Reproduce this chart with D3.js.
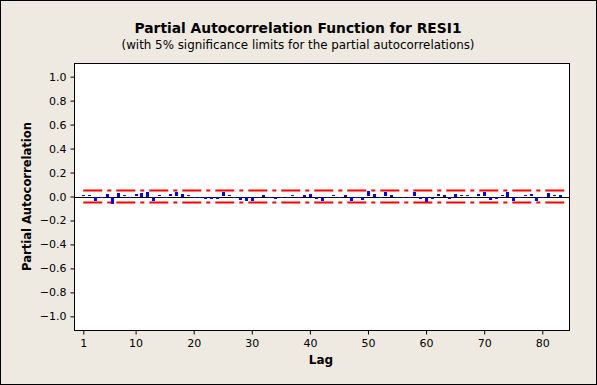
<!DOCTYPE html>
<html>
<head>
<meta charset="utf-8">
<script src="https://cdn.jsdelivr.net/npm/d3@7"></script>
<style>
  html, body { margin: 0; padding: 0; background: #EEEAE1; }
  svg { display: block; }
</style>
</head>
<body>
<div id="chart"></div>
<script>
// Partial autocorrelations, lags 1..83
const lags = d3.range(1, 84);
const pacf = [
  0.01, 0.01, -0.03, -0.01, 0.025, -0.055, 0.03, 0.01, -0.01, 0.02,
  0.03, 0.04, -0.03, 0.01, 0.0, 0.02, 0.035, 0.025, 0.01, -0.01,
  0.0, -0.015, -0.02, -0.015, 0.035, 0.01, -0.01, -0.025, -0.03, -0.035,
  -0.01, 0.015, 0.0, -0.02, -0.01, 0.0, 0.01, -0.01, 0.015, 0.025,
  -0.02, -0.035, 0.0, 0.01, -0.01, 0.015, -0.03, 0.0, -0.025, 0.045,
  0.025, 0.0, 0.035, 0.015, 0.0, 0.0, -0.01, 0.035, -0.02, -0.04,
  -0.02, 0.02, 0.015, -0.02, 0.025, 0.01, 0.01, 0.0, 0.02, 0.035,
  -0.025, -0.02, 0.01, 0.04, -0.035, -0.01, 0.01, 0.02, -0.03, 0.0,
  0.03, 0.01, 0.015
];
const sigLimit = 0.05;
const xTicks = [1, 10, 20, 30, 40, 50, 60, 70, 80];
const yTicks = [1.0, 0.8, 0.6, 0.4, 0.2, 0.0, -0.2, -0.4, -0.6, -0.8, -1.0];

const title = "Partial Autocorrelation Function for RESI1";
const subtitle = "(with 5% significance limits for the partial autocorrelations)";
const xTitle = "Lag";
const yTitle = "Partial Autocorrelation";

const width = 597, height = 385;
const plot = { left: 74, right: 569, top: 63, bottom: 330 };
const font = "Tahoma, 'DejaVu Sans', sans-serif";

const svg = d3.select("#chart").append("svg")
  .attr("width", width)
  .attr("height", height)
  .attr("font-family", font);

// background + outer frame
svg.append("rect")
  .attr("x", 0.5).attr("y", 0.5)
  .attr("width", width - 1).attr("height", height - 1)
  .attr("fill", "#EEEAE1")
  .attr("stroke", "#000").attr("stroke-width", 1);

const x = d3.scaleLinear().domain([-0.6, 84.6]).range([plot.left, plot.right]);
const y = d3.scaleLinear().domain([-1.114, 1.114]).range([plot.bottom, plot.top]);

// plot area
svg.append("rect")
  .attr("x", plot.left + 0.5).attr("y", plot.top + 0.5)
  .attr("width", plot.right - plot.left).attr("height", plot.bottom - plot.top)
  .attr("fill", "#fff")
  .attr("stroke", "#000").attr("stroke-width", 1);

// axes
const yAxis = svg.append("g")
  .attr("transform", `translate(${plot.left + 0.5},0)`)
  .call(d3.axisLeft(y).tickValues(yTicks).tickFormat(d3.format(".1f")).tickSize(4).tickSizeOuter(0));
yAxis.select(".domain").remove();
yAxis.selectAll("text").attr("font-size", 11).attr("font-family", font).attr("fill", "#000").attr("dx", -1);

const xAxis = svg.append("g")
  .attr("transform", `translate(0,${plot.bottom + 0.5})`)
  .call(d3.axisBottom(x).tickValues(xTicks).tickFormat(d3.format("d")).tickSize(4).tickSizeOuter(0));
xAxis.select(".domain").remove();
xAxis.selectAll("text").attr("font-size", 11).attr("font-family", font).attr("fill", "#000").attr("dy", "0.9em");

// zero line
svg.append("line")
  .attr("x1", plot.left).attr("x2", plot.right)
  .attr("y1", Math.round(y(0)) + 0.5).attr("y2", Math.round(y(0)) + 0.5)
  .attr("stroke", "#000").attr("stroke-width", 1);

// bars
svg.append("g").selectAll("rect")
  .data(lags.map((l, i) => ({ lag: l, v: pacf[i] })))
  .join("rect")
  .attr("x", d => Math.round(x(d.lag)) - 1)
  .attr("width", 3)
  .attr("y", d => Math.round(Math.min(y(d.v), y(0))))
  .attr("height", d => Math.max(1, Math.round(Math.abs(y(d.v) - y(0)))))
  .attr("fill", "#0000FF");

// significance limits
[sigLimit, -sigLimit].forEach(v => {
  svg.append("line")
    .attr("x1", x(lags[0])).attr("x2", x(lags[lags.length - 1] + 0.8))
    .attr("y1", y(v)).attr("y2", y(v))
    .attr("stroke", "#FF0000").attr("stroke-width", 2)
    .attr("stroke-dasharray", "19,5,4,5");
});

// titles
svg.append("text")
  .attr("x", 298).attr("y", 33)
  .attr("text-anchor", "middle")
  .attr("font-size", 14).attr("font-weight", "bold")
  .attr("textLength", 327).attr("lengthAdjust", "spacingAndGlyphs")
  .text(title);

svg.append("text")
  .attr("x", 298).attr("y", 49)
  .attr("text-anchor", "middle")
  .attr("font-size", 12)
  .attr("textLength", 353).attr("lengthAdjust", "spacingAndGlyphs")
  .text(subtitle);

svg.append("text")
  .attr("x", 321).attr("y", 364)
  .attr("text-anchor", "middle")
  .attr("font-size", 12).attr("font-weight", "bold")
  .text(xTitle);

svg.append("text")
  .attr("transform", `translate(31,${(plot.top + plot.bottom) / 2}) rotate(-90)`)
  .attr("text-anchor", "middle")
  .attr("font-size", 12).attr("font-weight", "bold")
  .attr("textLength", 149).attr("lengthAdjust", "spacingAndGlyphs")
  .text(yTitle);
</script>
</body>
</html>
